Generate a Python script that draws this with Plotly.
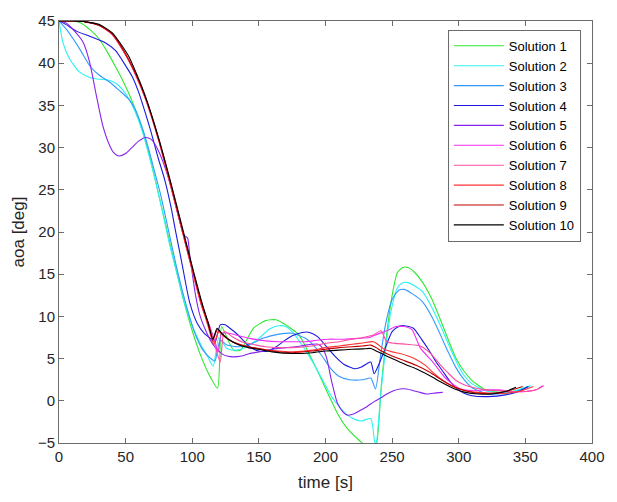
import plotly.graph_objects as go

names = [f"Solution {i}" for i in range(1, 11)]
colors = ["#2ee82e", "#2ef2f2", "#3399ff", "#1a1ae0", "#8822ee",
          "#f22ef2", "#ff4d9e", "#ff3333", "#c00000", "#000000"]

t1 = [0,10,16,23,30,36,42,48,53,58,63,68,74,80,86,93,100,106,112,119,122,126,131,136,146,155,163,172,180,188,195,202,209,216,224,230,236,238,242,246,250,254,258,262,267,273,280,286,292,298,304,310,320,330,340,350]
y1 = [45,45,44.8,44.0,42.9,41.4,39.7,37.9,36.2,34.2,31.8,29.0,25.0,20.9,16.8,12.2,8.3,5.5,3.3,1.5,8.8,7.5,6.0,6.0,8.6,9.5,9.6,8.8,7.8,5.5,3.2,0.8,-1.5,-3.2,-4.5,-5.3,-5.5,-5.3,2,8,12.5,15.2,15.8,15.8,15.2,14,12,9.7,7.3,5.0,3.5,2.4,1.3,1.0,1.0,1.6]

t2 = [0,3,8,15,23,30,37,43,48,53,57,62,67,72,77,83,89,94,100,106,111,115.7,120,126,132,138,150,158,165,170,175,182,190,198,205,211,216.5,222,227,234,237,238,241,245,249,254,258,262,267,273,280,286,292,298,304,310,320,330,340,354]
y2 = [45,42.4,40.5,39,38.3,38.1,38,37.6,36.8,35.6,34.3,32.2,29.4,26.3,22.9,18.5,14.8,11.7,8.9,6.8,5.4,4.1,7.5,6.2,6.0,6.2,7.4,8.5,8.9,8.8,8.2,6.7,4.7,2.4,0.4,-0.8,-1.7,-2.2,-2.4,-2.1,-4.9,-5,0,6,10.5,13.4,14,14,13.6,12.9,11,9,6.8,4.7,3,2,1.2,1.0,1.1,1.8]

t3 = [0,5.6,15.5,23,30,37.6,45,52,57,62,67,72,76,82,88,95,102,108,114,117,121,126,135,145,153,165,175,185,192,197,204,210,218,228,234,237.5,241,245,250,255,259,265,273,280,286,292,298,304,310,322,335,345,353]
y3 = [45,44,41.7,39.7,38.6,37.8,36.8,35.8,34.6,32.6,30.0,27.0,24.6,20.3,16.0,11.6,8.0,6.0,5.0,4.7,7.2,6.6,6.4,6.8,7.4,7.9,8.0,7.4,6.4,5.4,3.8,2.9,2.5,2.5,2.7,1.4,5,9,12,13.1,13.2,12.7,11.7,9.9,7.9,5.8,3.9,2.5,1.55,0.8,0.9,1.2,1.7]

t4 = [0,5,13,23,35,42.5,50,55,59.7,64,69,74,79.5,84,87,92,98,104,109,113.5,117,121,124.6,129,133,138,143,150,157,163,169,175,182.5,188,194,202,207,214,222,227,231,234,236.5,240,244,250,255,259,266,272,278,283,288,293,298,304,310,322,335,345,352]
y4 = [45,44.6,43.8,43.2,42.4,41.5,39.7,38.4,36.6,34.5,31.9,29.0,26.1,23.0,20.5,16.5,11.7,9.1,8.0,7.4,6.9,9.0,9.0,8.5,8.0,7.2,6.4,5.9,5.9,6.4,7.1,7.7,8.1,8.1,7.6,6.2,5.3,4.3,3.8,4.0,4.4,4.6,3.2,4.3,5.9,8.2,8.8,8.9,8.6,7.3,5.9,4.6,3.5,2.4,1.5,0.9,0.6,0.5,0.7,1.1,1.7]

t5 = [0,5,10.5,18,23,28,32.7,37.6,41,45,50,54.7,60,64.8,69,72,76.6,84,90,94,96.5,98,102.5,106,111,115,118.6,123,126,131,137,143,150,160,170,177.5,185,190,194.5,198,201,204.6,209,213,216.6,222,226.6,231,236.5,241,246,251,256,261,266,271,275.5,281,288]
y5 = [45,44.8,44,42.5,40.1,36.2,32.7,30.4,29.4,29.0,29.3,30.0,30.8,31.2,31.0,30.4,28.9,25.4,21.6,19.6,19.3,17.4,12.5,10.0,8.0,6.8,6.1,5.5,5.3,5.2,5.3,5.6,5.8,6.1,6.3,6.4,6.6,6.7,6.7,6.2,5.0,2.3,-0.3,-1.3,-1.7,-1.5,-1.1,-0.7,-0.1,0.3,0.8,1.2,1.4,1.4,1.2,1.0,0.8,0.9,1.0]

t6 = [0,10,20,30,40,50,58,65,75,85,95,101,107,113,117,119.5,122,128,135,143,155,165,175,185,195,202,214,225,233,239,246,253,259,265,271,281,290,300,310,320,330,340,350,358,363]
y6 = [45,45,44.9,44.5,43.4,41.0,38.5,35.8,30.8,24.8,18.6,14.9,11.3,8.9,7.0,5.8,8.0,8.0,7.7,7.4,7.1,7.0,7.0,7.0,7.2,7.3,7.3,7.4,7.5,7.9,8.3,8.8,8.8,8.4,6.3,4.5,2.7,1.5,1.2,1.3,1.3,1.1,1.1,1.3,1.8]

t7 = [0,10,20,30,40,50,58,65,75,85,95,101,107,113,117,121,124,130,137,145,155,165,175,190,200,210,220,228,236,241.6,246,252,261,271,279,286,292,298,304,310,320,330,340,350,358,364]
y7 = [45,45,44.9,44.5,43.4,41.0,38.4,35.7,30.7,24.7,18.5,14.8,11.2,8.8,6.6,4.6,8.2,7.6,7.0,6.7,6.4,6.3,6.3,6.5,6.8,7.0,7.3,7.5,7.8,8.3,7.0,6.8,6.7,6.5,5.6,4.3,3.3,2.4,1.9,1.6,1.3,1.2,1.1,1.1,1.3,1.8]

t8 = [0,10,20,30,40,50,58,65,75,85,95,101,107,112,116,120,124,130,137,145,155,165,175,190,200,210,220,228,236,240,244,250,256,262,268,275,281,288,293,299,305,315,325,335,345,356]
y8 = [45,45,44.9,44.5,43.4,41.0,38.5,35.8,30.8,24.8,18.6,14.9,11.3,8.8,6.7,8.2,7.6,7.0,6.6,6.3,6.0,5.9,5.8,6.0,6.3,6.5,6.7,6.85,7.0,6.6,6.1,5.8,5.6,5.3,4.9,4.2,3.3,2.4,1.9,1.5,1.2,1.0,0.9,0.9,1.1,1.7]

t9 = [0,10,20,30,40,50,58,65,75,85,95,101,107,112,115.5,119,122,128,135,142,150,160,175,190,200,210,220,228,234,238,242,250,260,268,278,288,297,305,315,325,335,348]
y9 = [45,45,44.9,44.5,43.5,41.1,38.6,35.9,30.9,25.0,18.8,15.1,11.6,9.1,7.2,8.5,8.0,7.2,6.7,6.4,6.2,5.9,5.7,5.9,6.1,6.3,6.4,6.5,6.6,6.3,5.9,5.3,4.7,4.2,3.4,2.4,1.6,1.2,0.9,0.9,1.1,1.7]

t10 = [0,10,20,30,40,52,58,65,75,85,95,101,107.5,112,115.5,118.6,122,128,135,142,150,160,175,190,200,210,220,228,234,238,242,250,260,268,278,288,297,305,315,325,335,343]
y10 = [45,45,44.9,44.6,43.6,40.9,38.8,36.0,31.0,25.2,19.0,15.3,11.5,9.2,7.3,8.6,8.0,7.2,6.6,6.3,6.1,5.8,5.6,5.7,5.9,6.0,6.1,6.15,6.2,5.9,5.6,5.0,4.3,3.8,3.0,2.1,1.4,1.0,0.8,0.8,1.1,1.6]

ts = [t1, t2, t3, t4, t5, t6, t7, t8, t9, t10]
ys = [y1, y2, y3, y4, y5, y6, y7, y8, y9, y10]

x_ticks = [0, 50, 100, 150, 200, 250, 300, 350, 400]
y_ticks = [-5, 0, 5, 10, 15, 20, 25, 30, 35, 40, 45]

fig = go.Figure()
for name, c, t, y in zip(names, colors, ts, ys):
    fig.add_trace(go.Scatter(x=t, y=y, mode="lines", name=name,
                             line=dict(color=c, width=1.1, shape="spline", smoothing=0.6)))

axis_common = dict(showline=True, linecolor="#6b6b6b", linewidth=1, mirror="ticks",
                   ticks="inside", ticklen=5, tickcolor="#6b6b6b", showgrid=False,
                   zeroline=False, tickfont=dict(family="Liberation Sans", size=15, color="#262626"))

fig.update_layout(
    width=617, height=502,
    margin=dict(l=59, r=15, t=15, b=59),
    paper_bgcolor="white", plot_bgcolor="white",
    font=dict(family="Liberation Sans", color="#262626"),
    xaxis=dict(range=[0, 400], tickvals=x_ticks, title=dict(text="time [s]", font=dict(size=17), standoff=12), **axis_common),
    yaxis=dict(range=[-5, 45], tickvals=y_ticks, title=dict(text="aoa [deg]", font=dict(size=17), standoff=8), **axis_common),
    legend=dict(x=0.979, y=0.979, xanchor="right", yanchor="top", bgcolor="white",
                bordercolor="#6b6b6b", borderwidth=1, font=dict(size=13, color="#000000"),
                tracegroupgap=0, itemwidth=50),
    showlegend=True,
)

fig.write_html("out.html")
